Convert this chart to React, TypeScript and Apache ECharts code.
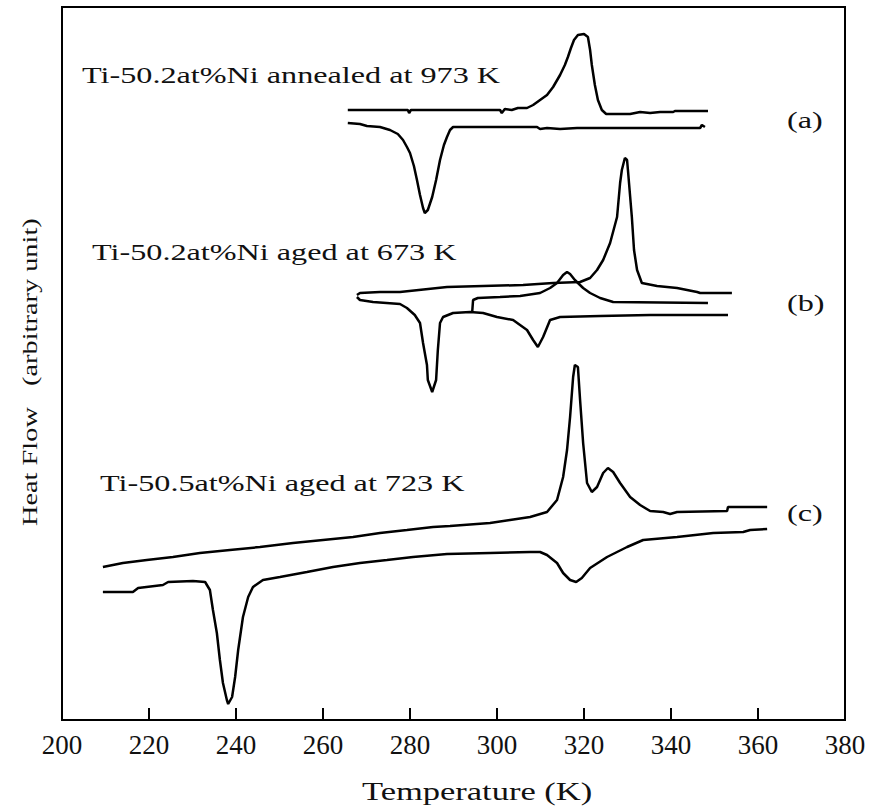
import React, { useEffect, useRef } from "react";
import * as echarts from "echarts";

// Temperature (K) and heat flow (arbitrary unit)
const a1T = [265.7, 279.5, 279.8, 280.2, 300.7, 301.1, 301.8, 303.4, 304.8, 306.9, 308.3, 309.9, 311.5, 312.9, 314.5, 315.6, 316.3, 317.0, 317.7, 318.6, 320.0, 320.9, 321.4, 321.8, 322.5, 323.2, 324.1, 325.1, 330.6, 332.9, 335.2, 337.5, 340.5, 340.9, 348.5];
const a1Q = [610, 610, 607, 610, 610, 607, 611, 610, 612, 612, 615, 620, 625, 633, 645, 655, 663, 672, 680, 685, 686, 683, 670, 655, 635, 620, 610, 606, 606, 608, 607, 608, 608, 609, 609];

const a2T = [265.7, 268.5, 270.1, 273.1, 275.4, 277.2, 278.4, 279.3, 280.0, 280.9, 281.6, 282.3, 283.0, 283.4, 284.1, 285.1, 286.0, 286.9, 287.8, 288.5, 289.2, 289.9, 309.2, 309.9, 311.5, 314.5, 318.4, 346.7, 347.1, 347.8];
const a2Q = [597, 596, 594, 593, 590, 586, 580, 573, 567, 554, 540, 525, 512, 507, 510, 523, 540, 560, 575, 583, 590, 593, 593, 591, 592, 591, 592, 592, 595, 593];

const b1T = [267.8, 268.5, 273.1, 277.7, 288.5, 306.0, 312.9, 319.1, 321.4, 323.0, 324.4, 326.0, 327.6, 328.3, 328.7, 329.4, 329.9, 330.1, 331.0, 331.5, 332.2, 333.3, 336.8, 341.4, 346.0, 346.7, 354.0];
const b1Q = [425, 427, 428, 428, 433, 435, 437, 438, 442, 450, 460, 477, 503, 537, 550, 562, 560, 550, 503, 470, 450, 437, 434, 432, 428, 427, 427];

const b2T = [294.3, 294.5, 295.6, 300.7, 305.3, 309.9, 312.2, 313.8, 315.2, 316.1, 316.8, 317.9, 319.8, 321.4, 323.7, 326.7, 348.5];
const b2Q = [408, 420, 422, 423, 424, 427, 432, 437, 445, 448, 446, 440, 432, 427, 422, 418, 417];

const b3T = [267.8, 268.5, 271.5, 277.7, 279.3, 281.1, 282.3, 283.0, 283.9, 284.1, 285.1, 286.0, 286.4, 286.9, 287.6, 289.9, 293.8, 296.8, 300.0, 303.7, 306.9, 308.3, 309.4, 310.6, 312.2, 314.5, 323.7, 335.2, 353.1];
const b3Q = [423, 420, 418, 416, 412, 405, 397, 377, 355, 340, 328, 340, 370, 397, 403, 407, 408, 407, 403, 400, 390, 380, 373, 383, 400, 403, 404, 405, 405];

const c1T = [209.4, 214.0, 219.5, 225.5, 231.7, 238.6, 245.5, 253.1, 260.0, 266.9, 273.1, 279.3, 285.3, 289.2, 298.4, 303.0, 307.6, 311.5, 313.8, 315.2, 316.1, 316.8, 317.5, 317.9, 318.6, 319.1, 319.8, 320.7, 321.8, 323.0, 324.4, 325.5, 326.7, 328.3, 330.6, 332.9, 335.2, 338.2, 339.8, 341.4, 352.9, 353.1, 362.1];
const c1Q = [153, 157, 160, 163, 167, 170, 173, 177, 180, 183, 187, 190, 193, 194, 197, 200, 203, 208, 220, 243, 270, 303, 343, 355, 353, 320, 277, 237, 228, 233, 247, 252, 248, 237, 223, 215, 209, 208, 206, 208, 209, 213, 213];

const c2T = [209.4, 216.3, 217.5, 223.2, 224.4, 230.1, 232.9, 234.0, 234.7, 235.6, 236.3, 237.0, 237.9, 238.2, 239.1, 239.8, 240.5, 241.6, 242.8, 243.9, 246.2, 250.1, 256.3, 262.3, 268.5, 274.7, 280.7, 288.5, 298.4, 307.6, 309.9, 311.5, 313.8, 315.2, 316.8, 318.2, 319.5, 321.4, 325.3, 329.9, 333.6, 341.4, 349.7, 356.6, 358.2, 362.1];
const c2Q = [128, 128, 132, 135, 138, 139, 138, 130, 110, 87, 60, 37, 20, 16, 23, 43, 70, 103, 123, 133, 140, 143, 148, 153, 157, 160, 163, 166, 167, 168, 168, 165, 157, 147, 140, 138, 142, 152, 163, 173, 180, 183, 187, 188, 190, 191];

const xTicks = [200, 220, 240, 260, 280, 300, 320, 340, 360, 380];

const annotations = [
  "Ti-50.2at%Ni annealed at 973 K",
  "Ti-50.2at%Ni aged at 673 K",
  "Ti-50.5at%Ni aged at 723 K",
];
const panelLabels = ["(a)", "(b)", "(c)"];

const curves = [
  [a1T, a1Q],
  [a2T, a2Q],
  [b1T, b1Q],
  [b2T, b2Q],
  [b3T, b3Q],
  [c1T, c1Q],
  [c2T, c2Q],
];

const FONT = '"Liberation Serif", "Times New Roman", serif';

export default function App() {
  const ref = useRef<HTMLDivElement>(null);

  useEffect(() => {
    document.body.style.margin = "0";
    const chart = echarts.init(ref.current!, null, { renderer: "svg" });

    const series = curves.map(([t, q], i) => ({
      type: "line",
      name: "curve" + i,
      data: t.map((v, j) => [v, q[j]]),
      showSymbol: false,
      symbol: "none",
      lineStyle: { color: "#000", width: 2.5 },
      itemStyle: { color: "#000" },
      z: 3,
    }));

    const txt = (text: string, x: number, y: number, size: number, sx: number, extra: any = {}) => ({
      type: "text",
      x,
      y,
      scaleX: sx,
      style: {
        text,
        fontFamily: FONT,
        fontSize: size,
        fill: "#111",
        align: "left",
        verticalAlign: "middle",
      },
      ...extra,
    });

    chart.setOption({
      animation: false,
      backgroundColor: "#fff",
      grid: {
        left: 62,
        right: 27,
        top: 7,
        bottom: 87,
        show: true,
        borderColor: "#000",
        borderWidth: 2,
      },
      xAxis: {
        type: "value",
        min: xTicks[0],
        max: xTicks[xTicks.length - 1],
        interval: 20,
        axisLine: { show: true, lineStyle: { color: "#000", width: 2 } },
        axisTick: { show: true, inside: true, length: 12, lineStyle: { color: "#000", width: 2 } },
        axisLabel: { fontFamily: FONT, fontSize: 27, color: "#111", margin: 11 },
        splitLine: { show: false },
      },
      yAxis: {
        type: "value",
        min: 0,
        max: 713,
        axisLine: { show: true, lineStyle: { color: "#000", width: 2 } },
        axisTick: { show: false },
        axisLabel: { show: false },
        splitLine: { show: false },
      },
      graphic: [
        txt(annotations[0], 82, 75, 23, 1.4),
        txt(annotations[1], 92, 252, 23, 1.4),
        txt(annotations[2], 100, 483, 23, 1.4),
        txt(panelLabels[0], 787, 120, 23, 1.4),
        txt(panelLabels[1], 787, 303, 23, 1.4),
        txt(panelLabels[2], 787, 513, 23, 1.4),
        {
          type: "text",
          x: 362,
          y: 792,
          scaleX: 1.38,
          style: { text: "Temperature (K)", fontFamily: FONT, fontSize: 25, fill: "#111", align: "left", verticalAlign: "middle" },
        },
        {
          type: "text",
          x: 30,
          y: 526,
          rotation: Math.PI / 2,
          scaleX: 1.35,
          style: { text: "Heat Flow   (arbitrary unit)", fontFamily: FONT, fontSize: 21, fill: "#111", align: "left", verticalAlign: "middle" },
        },
      ],
      series,
    });

    return () => chart.dispose();
  }, []);

  return <div ref={ref} style={{ width: 872, height: 807 }} />;
}
